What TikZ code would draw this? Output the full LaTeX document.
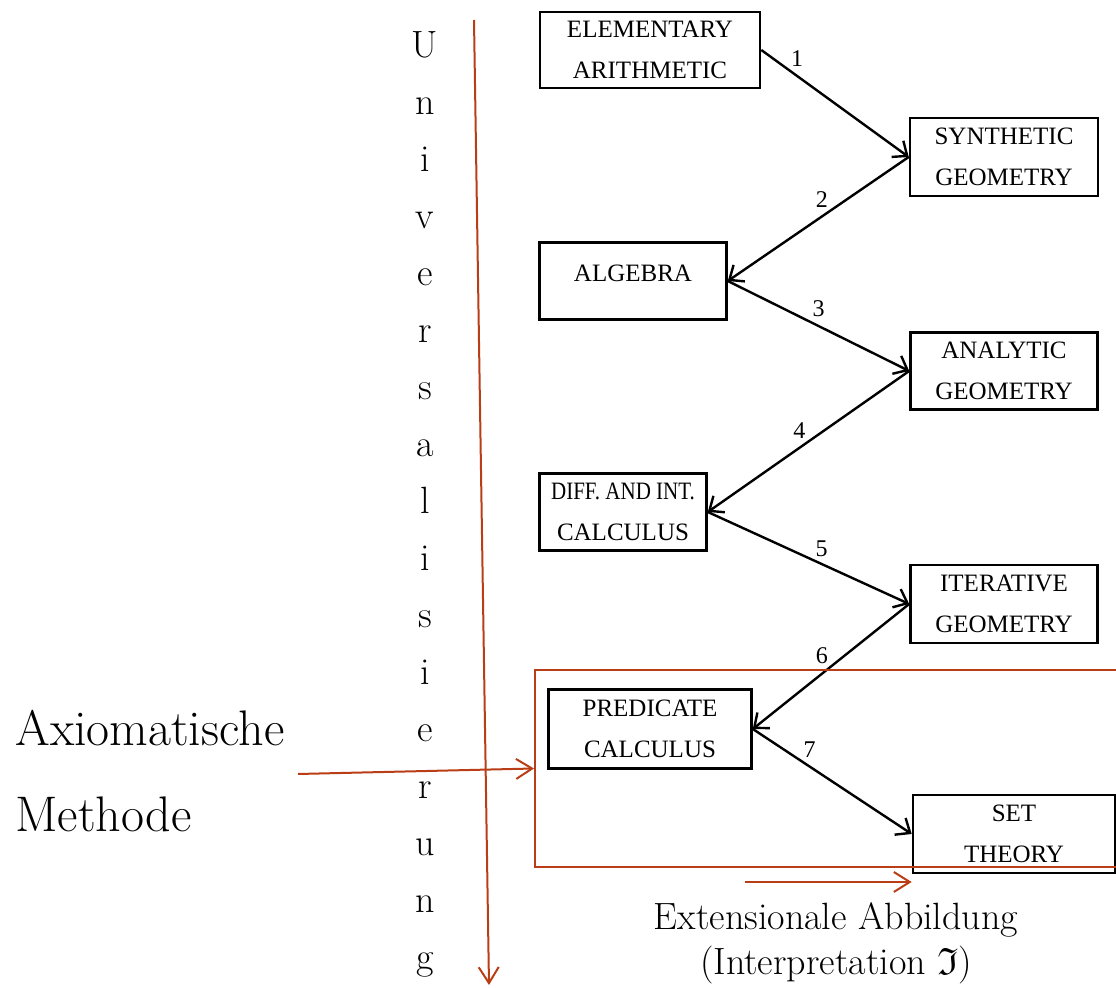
\documentclass[tikz,border=0pt]{standalone}
\usepackage{fontspec}
\usepackage{amssymb}
\usepackage{graphicx}
\usepackage{tikz}
\usetikzlibrary{arrows.meta}
\newfontfamily\boxfont{Liberation Serif}
\definecolor{rustred}{RGB}{185, 62, 22}

\begin{document}
\begin{tikzpicture}[x=0.5pt, y=-0.5pt,
  field/.style={draw, line width=1.3pt, inner sep=0pt, align=center, font=\boxfont\fontsize{12.5}{20.5}\selectfont},
  link/.style={-{Straight Barb[length=6pt,width=10pt]}, line width=1.2pt},
  num/.style={inner sep=1pt, font=\boxfont\fontsize{12}{14}\selectfont},
  redarrow/.style={rustred, line width=1pt, -{Straight Barb[length=8pt,width=10pt]}},
  letter/.style={anchor=base, inner sep=0pt, font=\fontsize{19}{22}\selectfont},
  bigtext/.style={anchor=base west, inner sep=0pt, font=\fontsize{25}{29}\selectfont},
  caption/.style={anchor=base, inner sep=0pt, font=\fontsize{19}{23}\selectfont}]
\useasboundingbox (0,0) rectangle (1116,988);

% Boxes of the chain
\node[field, minimum width=110pt, minimum height=38pt] (arith) at (650,50) {ELEMENTARY\\ARITHMETIC};
\node[field, minimum width=94pt, minimum height=39pt] (synth) at (1004,157) {SYNTHETIC\\GEOMETRY};
\node[field, minimum width=93.5pt, minimum height=38.5pt, text depth=8pt] (alg) at (633,281) {ALGEBRA};
\node[field, minimum width=93.5pt, minimum height=38.5pt] (analyt) at (1004,371) {ANALYTIC\\GEOMETRY};
\node[field, minimum width=83.5pt, minimum height=38.5pt] (calc) at (623,512) {\scalebox{0.84}[1]{DIFF. AND INT.}\\CALCULUS};
\node[field, minimum width=93.5pt, minimum height=39pt] (iter) at (1004,604) {ITERATIVE\\GEOMETRY};
\node[field, minimum width=101.5pt, minimum height=39.5pt] (pred) at (650,729) {PREDICATE\\CALCULUS};
\node[field, minimum width=101pt, minimum height=39pt] (sets) at (1014,834) {SET\\THEORY};

% Numbered arrows
\draw[link] (arith.east) -- node[num, pos=0.18, above right=0pt] {1} (synth.west);
\draw[link] (synth.west) -- node[num, pos=0.48, above=3pt] {2} (alg.east);
\draw[link] (alg.east) -- node[num, pos=0.5, above=3pt] {3} (analyt.west);
\draw[link] (analyt.west) -- node[num, pos=0.5, above left=0pt] {4} (calc.east);
\draw[link] (calc.east) -- node[num, pos=0.52, above right=0pt] {5} (iter.west);
\draw[link] (iter.west) -- node[num, pos=0.5, above left=0pt] {6} (pred.east);
\draw[link] (pred.east) -- node[num, pos=0.3, above right=0pt] {7} (sets.west);

% Red frame round the last two boxes
\node[draw=rustred, line width=1pt, inner sep=0pt, minimum width=302.5pt, minimum height=98.5pt] (frame) at (837.5,768.5) {};

% Universalisierung, one letter below the other
\foreach \ch [count=\i from 0] in {U,n,i,v,e,r,s,a,l,i,s,i,e,r,u,n,g}
  \node[letter] (univ\i) at (425,58+57*\i) {\ch};
\coordinate (utop) at (474,20);
\coordinate (ubot) at (489,985);
\draw[redarrow] (utop) -- (ubot);

% Axiomatische Methode
\node[bigtext] (axiom) at (15,746) {Axiomatische};
\node[bigtext] (method) at (15,832) {Methode};
\coordinate (axstart) at (298,774);
\draw[redarrow] (axstart) -- (frame.west);

% Extensionale Abbildung
\coordinate (extstart) at (745,882);
\draw[redarrow] (extstart) -- (extstart -| sets.west);
\node[caption] (ext) at (836,930) {Extensionale Abbildung};
\node[caption] (interp) at (836,975) {(Interpretation $\mathfrak{I}$)};
\end{tikzpicture}
\end{document}
